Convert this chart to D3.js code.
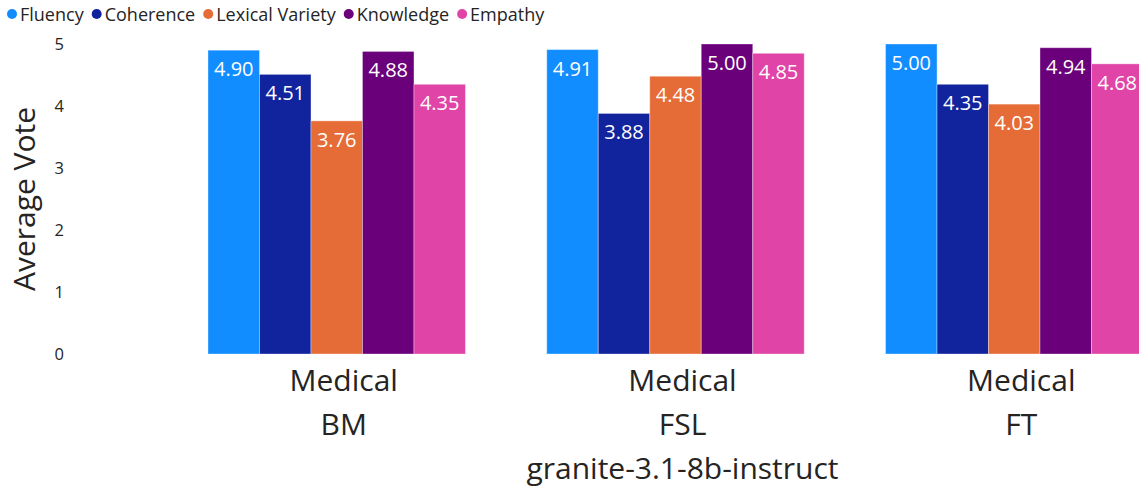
<!DOCTYPE html>
<html>
<head>
<meta charset="utf-8">
<script src="https://cdn.jsdelivr.net/npm/d3@7"></script>
<style>
  html, body { margin: 0; padding: 0; background: #fff; }
  svg { display: block; font-family: "Segoe UI", "Open Sans", "Noto Sans", sans-serif; }
</style>
</head>
<body>
<svg id="chart" width="1139" height="491"></svg>
<script>
// Groups along the x axis (two-line labels) and the shared model name
const groups = ["BM", "FSL", "FT"];
const groupPrefix = "Medical";
const modelName = "granite-3.1-8b-instruct";

// Metrics (series) and their colours
const metrics = ["Fluency", "Coherence", "Lexical Variety", "Knowledge", "Empathy"];
const colors = ["#118DFF", "#12239E", "#E66C37", "#6B007B", "#E044A7"];

// Average vote per metric, one array per group
const valuesBM  = [4.90, 4.51, 3.76, 4.88, 4.35];
const valuesFSL = [4.91, 3.88, 4.48, 5.00, 4.85];
const valuesFT  = [5.00, 4.35, 4.03, 4.94, 4.68];

const yTicks = [0, 1, 2, 3, 4, 5];

const table = groups.map((g, i) => ({
  group: g,
  values: [valuesBM, valuesFSL, valuesFT][i]
}));

const svg = d3.select("#chart");

const x0 = d3.scaleBand().domain(groups).range([208, 1143]).paddingInner(0.24).paddingOuter(0);
const x1 = d3.scaleBand().domain(metrics).range([0, x0.bandwidth()]).padding(0);
const y = d3.scaleLinear().domain([0, 5]).range([354, 44]);
const color = d3.scaleOrdinal().domain(metrics).range(colors);

// Y axis tick labels (no axis line, no gridlines)
const yAxis = d3.axisLeft(y).tickValues(yTicks).tickSize(0).tickPadding(0).tickFormat(d3.format("d"));
svg.append("g")
  .attr("transform", "translate(64,0)")
  .call(yAxis)
  .call(g => g.select(".domain").remove())
  .call(g => g.selectAll("text")
    .attr("font-size", 16.5)
    .attr("fill", "#252423")
    .attr("font-family", "'Segoe UI', 'Open Sans', sans-serif"));

// Y axis title
svg.append("text")
  .attr("transform", "translate(35,199) rotate(-90)")
  .attr("text-anchor", "middle")
  .attr("font-size", 30)
  .attr("fill", "#252423")
  .text("Average Vote");

// Bars
const gGroups = svg.append("g").selectAll("g")
  .data(table)
  .join("g")
  .attr("transform", d => `translate(${x0(d.group)},0)`);

const cells = gGroups.selectAll("g")
  .data(d => d.values.map((v, i) => ({ metric: metrics[i], value: v })))
  .join("g");

cells.append("rect")
  .attr("x", d => x1(d.metric))
  .attr("y", d => y(d.value))
  .attr("width", x1.bandwidth())
  .attr("height", d => y(0) - y(d.value))
  .attr("fill", d => color(d.metric))
  .attr("stroke", "rgba(255,255,255,0.35)")
  .attr("stroke-width", 1);

cells.append("text")
  .attr("x", d => x1(d.metric) + x1.bandwidth() / 2)
  .attr("y", d => y(d.value) + 26)
  .attr("text-anchor", "middle")
  .attr("font-size", 20)
  .attr("fill", "#ffffff")
  .text(d => d3.format(".2f")(d.value));

// X axis category labels (two lines each)
const labelShift = 7;
const xLabels = svg.append("g").selectAll("g")
  .data(groups)
  .join("g")
  .attr("transform", d => `translate(${x0(d) + x0.bandwidth() / 2 + labelShift},0)`);

xLabels.append("text")
  .attr("y", 391)
  .attr("text-anchor", "middle")
  .attr("font-size", 30)
  .attr("fill", "#252423")
  .text(groupPrefix);

xLabels.append("text")
  .attr("y", 435)
  .attr("text-anchor", "middle")
  .attr("font-size", 30)
  .attr("fill", "#252423")
  .text(d => d);

svg.append("text")
  .attr("x", x0(groups[1]) + x0.bandwidth() / 2 + labelShift)
  .attr("y", 479)
  .attr("text-anchor", "middle")
  .attr("font-size", 30)
  .attr("fill", "#252423")
  .text(modelName);

// Legend
const legend = svg.append("g").attr("transform", "translate(0,14)");
let lx = 7;
metrics.forEach((m, i) => {
  const item = legend.append("g").attr("transform", `translate(${lx},0)`);
  item.append("circle").attr("cx", 5).attr("cy", 0).attr("r", 5).attr("fill", colors[i]);
  const t = item.append("text")
    .attr("x", 13)
    .attr("y", 6.5)
    .attr("font-size", 18)
    .attr("fill", "#252423")
    .text(m);
  lx += 13 + t.node().getComputedTextLength() + 8;
});
</script>
</body>
</html>
